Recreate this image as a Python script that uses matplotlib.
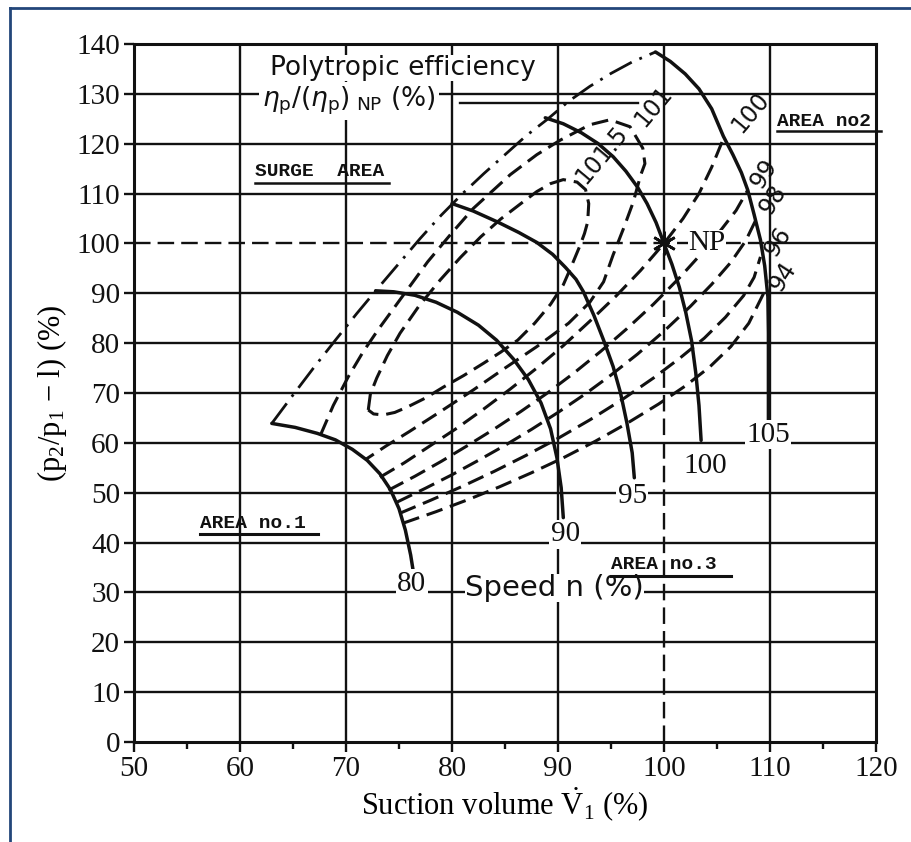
import matplotlib
matplotlib.use('Agg')
import matplotlib.pyplot as plt
from matplotlib.lines import Line2D

plt.rcParams['mathtext.fontset'] = 'custom'
plt.rcParams['mathtext.rm'] = 'Liberation Serif'
plt.rcParams['mathtext.it'] = 'Liberation Serif:italic'
plt.rcParams['mathtext.bf'] = 'Liberation Serif:bold'

# ---------------- data ----------------
x_ticks = [50, 60, 70, 80, 90, 100, 110, 120]
y_ticks = [0, 10, 20, 30, 40, 50, 60, 70, 80, 90, 100, 110, 120, 130, 140]

# speed lines n (%)
speed_80_x = [63.0, 65.2, 67.3, 69.0, 70.6, 72.0, 73.2, 74.2, 75.0, 75.6, 76.1, 76.4]
speed_80_y = [63.9, 63.1, 61.9, 60.6, 58.7, 56.5, 53.8, 50.6, 46.8, 42.5, 37.5, 33.5]
speed_90_x = [72.8, 74.5, 76.5, 78.5, 80.5, 82.5, 84.2, 85.8, 87.2, 88.4, 89.3, 89.9, 90.3, 90.5]
speed_90_y = [90.5, 90.3, 89.6, 88.2, 86.2, 83.6, 80.6, 76.8, 72.7, 68.0, 62.8, 57.0, 51.0, 45.0]
speed_95_x = [80.0, 82.0, 84.3, 86.3, 88.0, 89.5, 90.7, 91.7, 92.4, 93.4, 94.3, 95.2, 95.9, 96.5, 97.0, 97.2]
speed_95_y = [108.0, 106.5, 104.3, 102.2, 100.2, 97.8, 95.2, 92.8, 90.3, 85.5, 80.6, 75.3, 70.0, 64.0, 58.0, 53.0]
speed_100_x = [88.8, 90.5, 92.2, 93.8, 95.2, 96.4, 97.5, 98.4, 99.25, 100.0, 100.75, 101.45, 102.05, 102.6, 103.0, 103.3, 103.5]
speed_100_y = [125.2, 124.0, 122.2, 120.0, 117.4, 114.5, 111.3, 108.0, 104.2, 100.0, 95.8, 91.2, 86.2, 80.5, 74.0, 67.5, 60.5]
speed_105_x = [99.2, 100.6, 102.0, 103.3, 104.5, 105.6, 106.5, 107.3, 107.9, 108.5, 109.1, 109.5, 109.8, 109.85, 109.85, 109.85]
speed_105_y = [138.4, 136.5, 134.0, 131.0, 127.0, 121.5, 117.8, 114.2, 110.7, 105.8, 100.7, 95.5, 89.3, 82.0, 73.0, 64.5]
speed_labels = ['80', '90', '95', '100', '105']
speed_label_x = [76.2, 90.7, 97.0, 103.9, 109.8]
speed_label_y = [31.7, 41.7, 49.3, 55.4, 61.6]

# surge line (dash-dot)
surge_x = [63.0, 65.0, 67.0, 69.0, 71.0, 73.0, 75.0, 77.0, 79.0, 81.0, 83.0, 85.0, 87.0, 89.0, 91.0, 93.0, 95.0, 97.0, 99.2]
surge_y = [63.9, 69.6, 75.2, 80.6, 85.9, 91.0, 96.0, 101.0, 105.7, 110.0, 114.0, 117.8, 121.6, 124.9, 128.5, 131.5, 134.1, 136.4, 138.4]

# efficiency contours eta_p/(eta_p)_NP (%)
eff_1015_x = [72.1, 72.3, 72.9, 73.9, 75.1, 76.9, 78.9, 80.8, 82.7, 84.6, 86.5, 88.0, 89.3, 90.5, 91.8, 92.6, 92.9,
              92.8, 92.5, 92.1, 91.2, 90.5, 89.3, 87.8, 86.2, 84.6, 83.0, 81.1, 79.2, 77.5, 75.8, 74.6, 73.5, 72.6, 72.1]
eff_1015_y = [66.6, 69.8, 73.0, 77.5, 82.0, 87.5, 92.7, 97.2, 101.3, 104.9, 108.0, 110.4, 112.0, 112.8, 112.3, 110.8, 108.0,
              104.3, 102.0, 99.7, 95.1, 91.7, 87.8, 84.0, 80.6, 78.2, 76.0, 73.5, 71.2, 69.0, 67.2, 66.1, 65.6, 65.8, 66.6]
eff_101_x = [67.6, 68.8, 70.2, 71.6, 73.0, 75.4, 77.7, 79.9, 82.0, 85.5, 88.0, 90.2, 93.0, 94.9, 96.8, 98.0, 98.2,
             97.8, 97.1, 96.2, 95.2, 94.3, 93.0, 91.0, 88.0, 85.0, 82.0, 79.0, 76.0, 73.8, 71.8]
eff_101_y = [61.6, 67.5, 73.2, 78.2, 82.6, 89.6, 96.3, 101.9, 107.0, 113.8, 117.8, 120.7, 123.8, 124.8, 123.4, 119.1, 116.0,
             113.7, 108.3, 103.1, 97.7, 92.3, 88.2, 84.0, 79.3, 75.0, 70.6, 66.4, 62.3, 59.4, 56.6]
eff_100_x = [73.2, 75.5, 78.0, 80.5, 83.0, 85.5, 88.0, 90.5, 93.0, 95.5, 97.8, 100.0, 101.8, 103.3, 104.5, 105.6]
eff_100_y = [53.1, 56.0, 59.5, 63.0, 66.8, 70.8, 75.0, 79.5, 84.4, 89.5, 94.6, 100.0, 105.0, 110.0, 115.3, 121.0]
eff_99_x = [74.0, 76.5, 79.0, 81.5, 84.0, 86.5, 89.0, 91.5, 94.0, 96.5, 99.0, 101.5, 103.5, 105.3, 106.8, 107.9]
eff_99_y = [50.5, 53.3, 56.3, 59.5, 62.8, 66.3, 70.0, 74.0, 78.3, 82.9, 87.8, 93.2, 97.9, 102.5, 106.6, 110.7]
eff_98_x = [74.8, 77.5, 80.0, 82.5, 85.0, 87.5, 90.0, 92.5, 95.0, 97.5, 100.0, 102.5, 104.5, 106.3, 107.7, 108.8]
eff_98_y = [48.1, 50.9, 53.6, 56.5, 59.5, 62.7, 66.1, 69.7, 73.6, 77.8, 82.4, 87.4, 91.8, 96.2, 100.5, 105.3]
eff_96_x = [75.1, 78.0, 81.0, 84.0, 87.0, 90.0, 93.0, 96.0, 99.0, 101.5, 103.8, 105.8, 107.5, 108.5, 109.1]
eff_96_y = [45.9, 48.5, 51.3, 54.3, 57.5, 60.9, 64.6, 68.6, 73.0, 77.0, 81.0, 85.2, 89.5, 93.2, 97.3]
eff_94_x = [75.4, 78.5, 81.5, 84.5, 87.5, 90.5, 93.5, 96.5, 99.5, 102.0, 104.3, 106.3, 108.0, 109.4]
eff_94_y = [43.9, 46.2, 48.6, 51.2, 54.0, 57.0, 60.3, 63.9, 67.8, 71.4, 75.2, 79.3, 84.0, 90.0]
eff_labels = ['101.5', '101', '100', '99', '98', '96', '94']
eff_label_x = [94.1, 99.0, 108.2, 109.4, 110.3, 110.7, 111.2]
eff_label_y = [117.7, 127.5, 126.2, 114.1, 108.7, 100.3, 93.3]
eff_label_rot = [50, 50, 50, 57, 57, 57, 57]

# design point
np_x = [100.0]
np_y = [100.0]

# ---------------- figure ----------------
INK = '#111111'
fig = plt.figure(figsize=(9.11, 8.42), dpi=100)
ax = fig.add_axes([134 / 911, 1 - 742 / 842, (876 - 134) / 911, (742 - 44) / 842])
ax.set_xlim(50, 120)
ax.set_ylim(0, 140)

GLW = 1.7
# grid
for gx in x_ticks[1:-1]:
    if gx == 100:
        ax.plot([gx, gx], [100, 140], color=INK, lw=GLW, zorder=1)
        ax.plot([gx, gx], [0, 100], color=INK, lw=1.7, ls=(0, (7, 3)), zorder=1)
    else:
        ax.axvline(gx, color=INK, lw=GLW, zorder=1)
for gy in y_ticks[1:-1]:
    if gy == 100:
        ax.plot([50, 109.8], [gy, gy], color=INK, lw=1.7, ls=(0, (7, 3)), zorder=1)
        ax.plot([109.8, 120], [gy, gy], color=INK, lw=GLW, zorder=1)
    else:
        ax.axhline(gy, color=INK, lw=GLW, zorder=1)

# leader line under the efficiency title
ax.plot([80.8, 97.5], [128.2, 128.2], color=INK, lw=GLW, zorder=1)

# speed lines
for sx, sy in [(speed_80_x, speed_80_y), (speed_90_x, speed_90_y), (speed_95_x, speed_95_y),
               (speed_100_x, speed_100_y), (speed_105_x, speed_105_y)]:
    ax.plot(sx, sy, color=INK, lw=2.5, solid_capstyle='round', zorder=3)

# surge line
ax.plot(surge_x, surge_y, color=INK, lw=2.0, ls=(0, (9, 3, 1, 3)), zorder=3)

# efficiency contours
for ex, ey in [(eff_1015_x, eff_1015_y), (eff_101_x, eff_101_y), (eff_100_x, eff_100_y),
               (eff_99_x, eff_99_y), (eff_98_x, eff_98_y), (eff_96_x, eff_96_y), (eff_94_x, eff_94_y)]:
    ax.plot(ex, ey, color=INK, lw=2.2, ls=(0, (5.5, 2.6)), zorder=3)

for t, lx, ly, r in zip(eff_labels, eff_label_x, eff_label_y, eff_label_rot):
    ax.text(lx, ly, t, rotation=r, ha='center', va='center', fontsize=17,
            family='DejaVu Sans', color=INK, zorder=5, rotation_mode='anchor')

for t, lx, ly in zip(speed_labels, speed_label_x, speed_label_y):
    ax.text(lx, ly, t, ha='center', va='center', fontsize=21, family='Liberation Serif', color=INK,
            zorder=5, bbox=dict(facecolor='white', edgecolor='none', pad=1))

# NP point
ax.plot(np_x, np_y, marker=(6, 2, 0), ms=17, mew=1.9, color=INK, ls='none', zorder=4)
ax.text(102.3, 100.0, 'NP', ha='left', va='center', fontsize=21, family='Liberation Serif', color=INK,
        zorder=5, bbox=dict(facecolor='white', edgecolor='none', pad=0.5))

# titles / annotations
ax.text(62.8, 135.1, 'Polytropic efficiency', ha='left', va='center', fontsize=19, family='DejaVu Sans',
        color=INK, zorder=5, bbox=dict(facecolor='white', edgecolor='none', pad=0))
ax.text(62.1, 128.6, r'$\eta_{\rm p}/(\eta_{\rm p})_{\ \rm NP}$ (%)', ha='left', va='center', fontsize=19,
        family='DejaVu Sans', math_fontfamily='dejavusans', color=INK, zorder=6,
        bbox=dict(facecolor='white', edgecolor='none', pad=2))
ax.text(89.7, 30.9, 'Speed n (%)', ha='center', va='center', fontsize=21, family='DejaVu Sans',
        color=INK, zorder=5, bbox=dict(facecolor='white', edgecolor='none', pad=0))

mono = dict(family='Liberation Mono', fontweight='bold', fontsize=14, color=INK, zorder=6)
ax.text(61.4, 114.5, 'SURGE  AREA', ha='left', va='center', **mono)
ax.plot([61.4, 74.1], [112.1, 112.1], color=INK, lw=1.8, zorder=6)
ax.text(56.2, 43.9, 'AREA no.1', ha='left', va='center', **mono)
ax.plot([56.2, 67.4], [41.7, 41.7], color=INK, lw=2.2, zorder=6)
ax.text(95.0, 35.6, 'AREA no.3', ha='left', va='center', **mono)
ax.plot([95.0, 106.3], [33.2, 33.2], color=INK, lw=2.2, zorder=6)
ax.text(110.65, 124.5, 'AREA no2', ha='left', va='center', clip_on=False, **mono)
ax.plot([110.65, 120.5], [122.5, 122.5], color=INK, lw=1.8, zorder=6, clip_on=False)

# axes styling
for s in ax.spines.values():
    s.set_linewidth(2.2)
    s.set_color(INK)
ax.set_xticks(x_ticks)
ax.set_yticks(y_ticks)
ax.set_xticks([55, 65, 75, 85, 95, 105, 115], minor=True)
ax.tick_params(axis='both', which='major', direction='out', length=7, width=1.7, colors=INK,
               labelsize=21, pad=3)
ax.tick_params(axis='x', which='minor', direction='out', length=5, width=1.7, colors=INK)
for lab in ax.get_xticklabels() + ax.get_yticklabels():
    lab.set_family('Liberation Serif')

ax.set_xlabel(r'Suction volume $\dot{\rm V}_{1}$ (%)', fontsize=22, family='Liberation Serif', labelpad=3)
ax.set_ylabel(r'(p$_2$/p$_1$ $-$ l) (%)', fontsize=22, family='Liberation Serif', labelpad=5)

# outer frame of the page
frame = '#23467a'
fig.add_artist(Line2D([10 / 911, 10 / 911], [0, 1 - 8 / 842], transform=fig.transFigure, color=frame, lw=2))
fig.add_artist(Line2D([10 / 911, 1], [1 - 8 / 842, 1 - 8 / 842], transform=fig.transFigure, color=frame, lw=2))

fig.savefig('out.png', dpi=100, facecolor='white')
